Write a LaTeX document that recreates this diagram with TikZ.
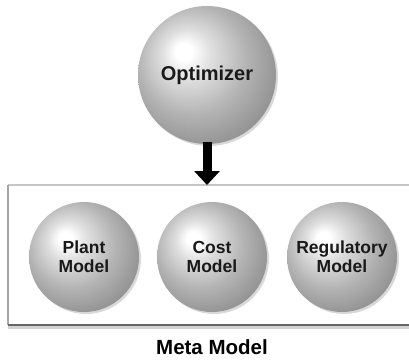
\documentclass[tikz,border=0pt]{standalone}
\usepackage{fontspec}
\setmainfont{Liberation Sans}
\usetikzlibrary{arrows.meta,shadows}
\pgfdeclareradialshading{greysphere}{\pgfpoint{-9bp}{9bp}}{%
  color(0bp)=(white); color(3bp)=(white); color(9bp)=(gray!25);
  color(20bp)=(gray!60); color(30bp)=(gray!85); color(37bp)=(gray!80!black);
  color(50bp)=(gray!60!black)}
\tikzset{
  sphere/.style={circle, shading=greysphere, draw=none, inner sep=0pt,
    align=center, font=\bfseries\fontsize{17.5}{19}\selectfont, text=black!90,
    drop shadow={shadow xshift=2pt, shadow yshift=-2pt, opacity=0.3, fill=gray}},
  bigsphere/.style={sphere, minimum size=138pt, font=\bfseries\fontsize{20}{20}\selectfont},
  smallsphere/.style={sphere, minimum size=110pt},
}
\begin{document}
\begin{tikzpicture}[x=1pt,y=-1pt]
\useasboundingbox (0,0) rectangle (409,361);
\begin{scope}
\clip (0,0) rectangle (409,361);
\coordinate (bl) at (8,325);
\coordinate (tl) at (8,185);
\coordinate (tr) at (420,185);
\coordinate (br) at (420,325);
\coordinate (boxtop) at (207,185);
\draw[gray!45, line width=2pt] (tl) -- (tr);
\draw[gray!70, line width=1.5pt] (tl) -- (bl);
\draw[gray!35, line width=3pt] ([yshift=-2.5pt]bl) -- ([yshift=-2.5pt]br);
\draw[gray!80!black, line width=2pt] (bl) -- (br);
\end{scope}
\node[bigsphere] (opt) at (207,75) {Optimizer};
\node[smallsphere] (plant) at (84,257) {Plant\\Model};
\node[smallsphere] (cost) at (212,257) {Cost\\Model};
\node[smallsphere] (reg) at (342,257) {Regulatory\\Model};
\node[font=\bfseries\fontsize{20.5}{20}\selectfont] (meta) at (212,347) {Meta Model};
\draw[line width=9pt, -{Triangle[width=25pt,length=14pt]}, shorten <=-2pt] (opt.south) -- (boxtop);
\end{tikzpicture}
\end{document}
